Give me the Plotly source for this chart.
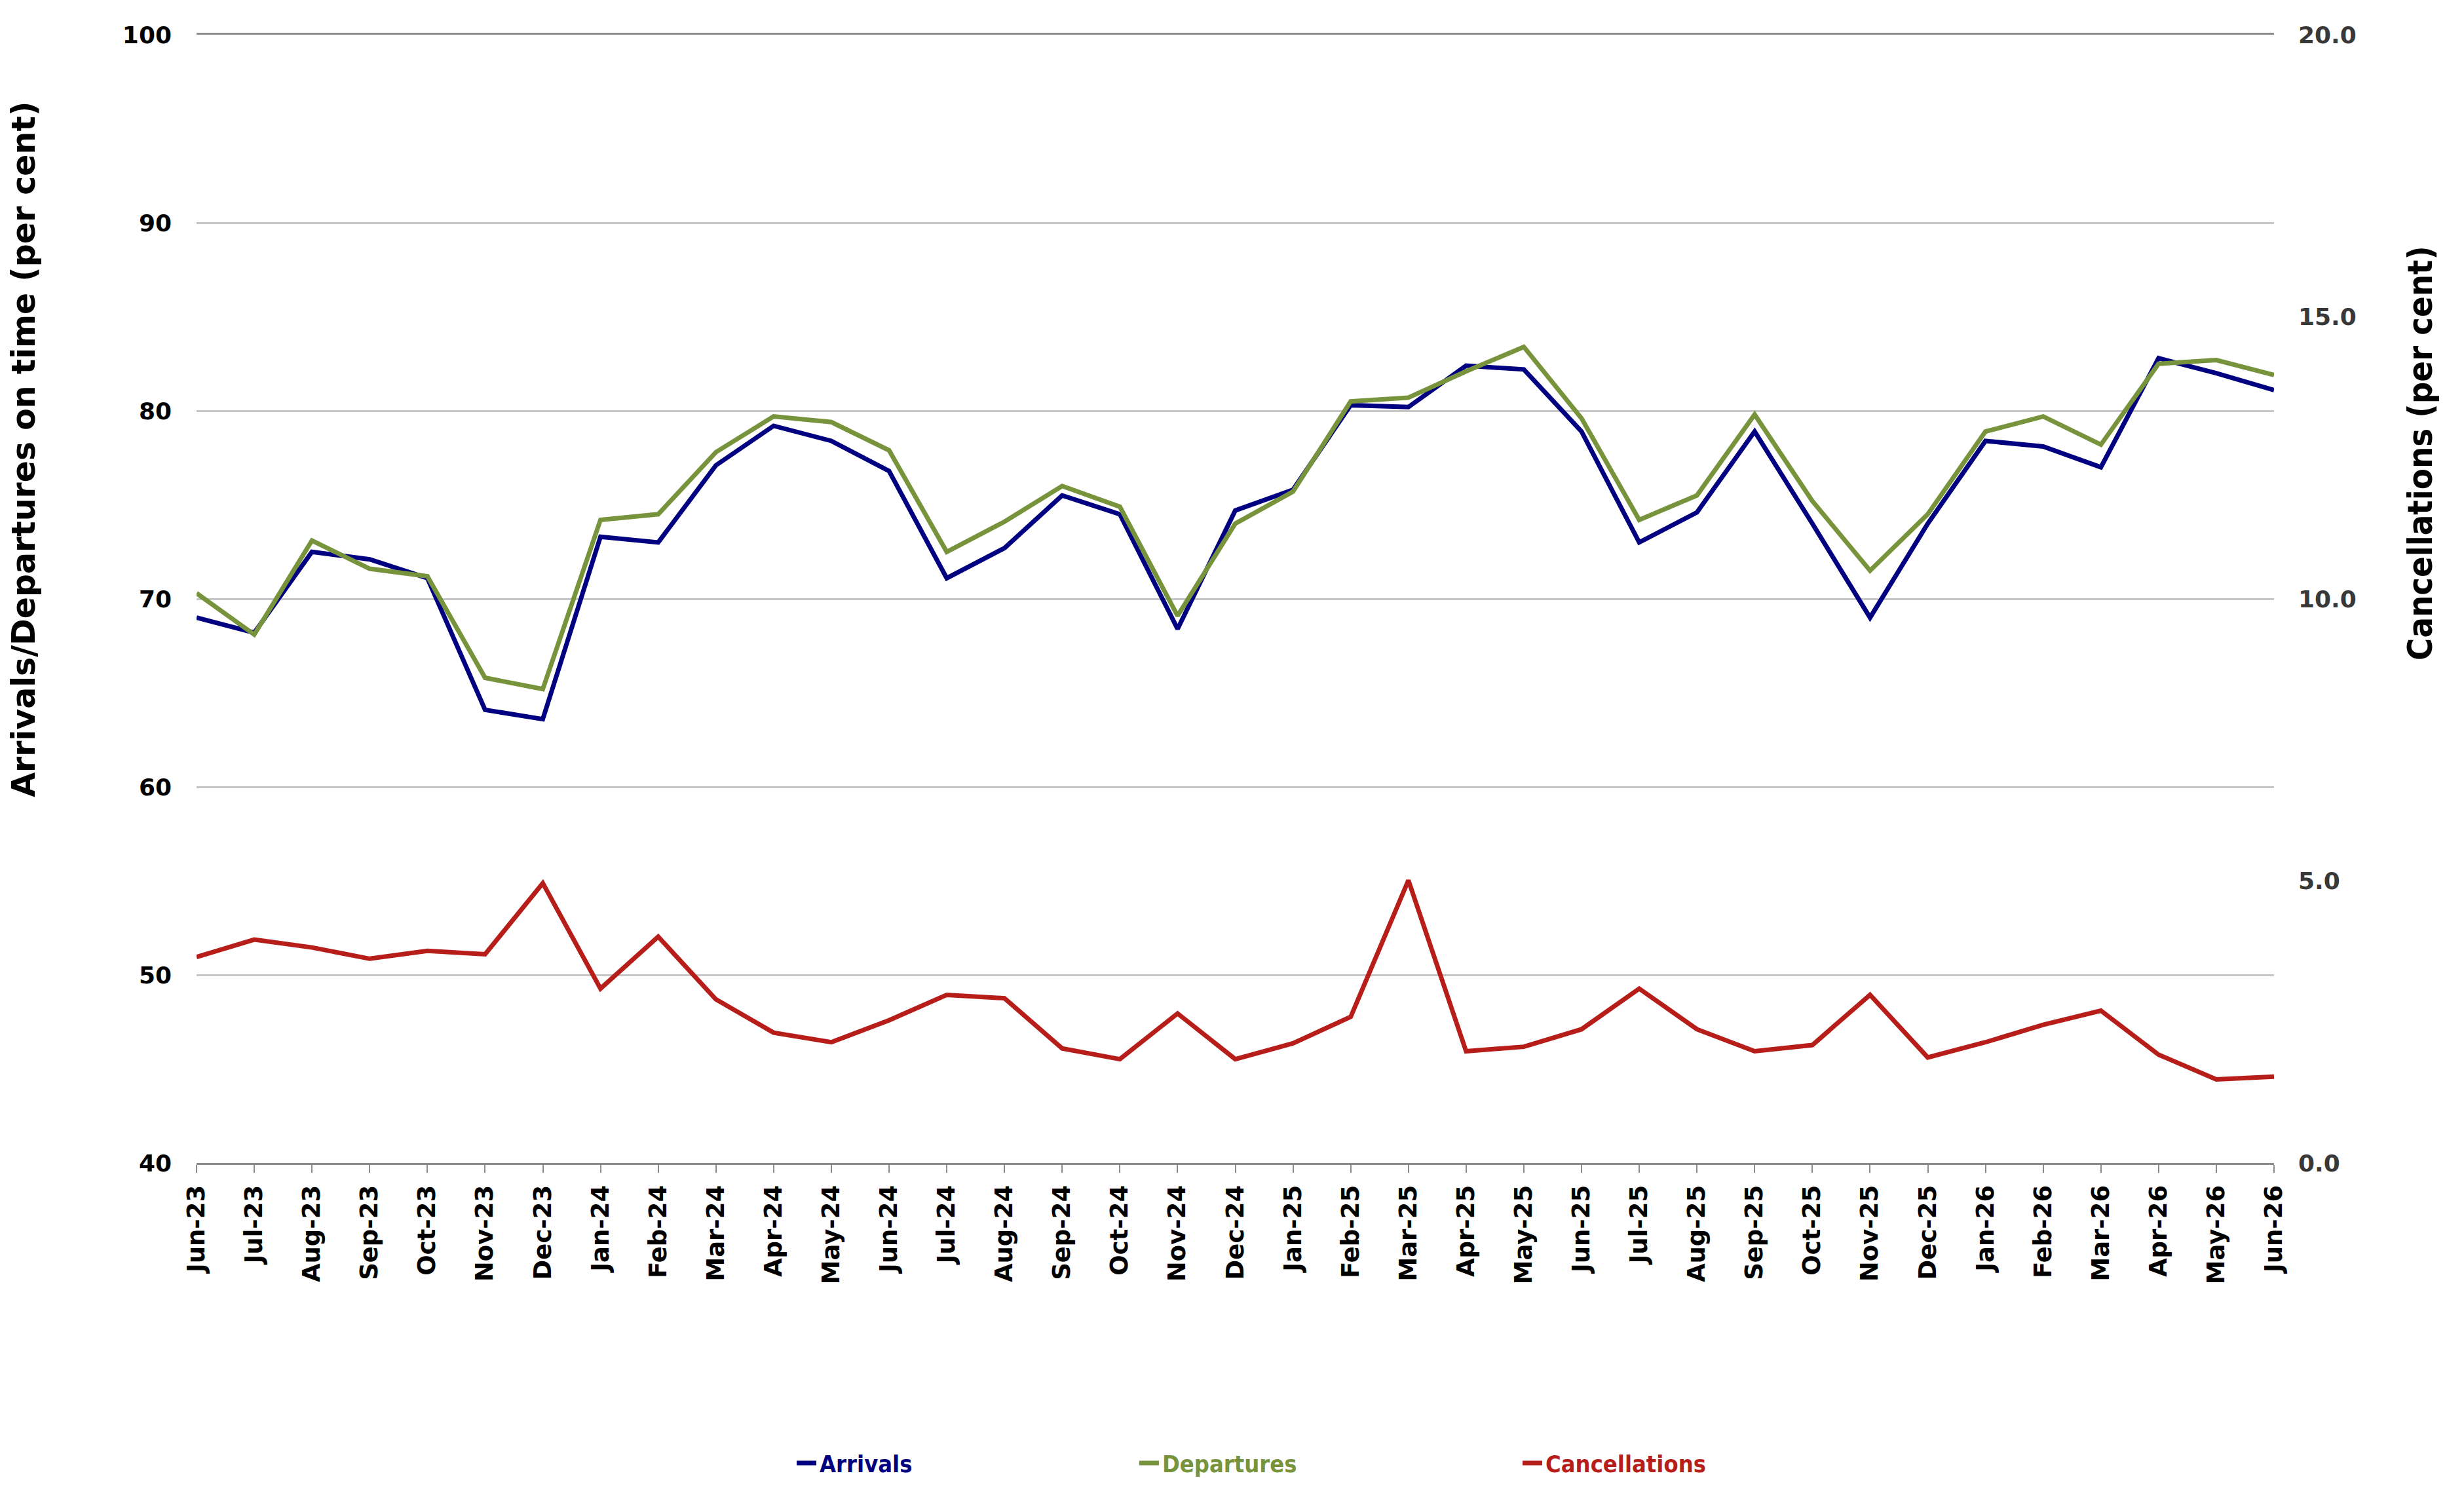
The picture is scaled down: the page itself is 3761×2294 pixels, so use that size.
import plotly.graph_objects as go

months = ["Jun-23","Jul-23","Aug-23","Sep-23","Oct-23","Nov-23","Dec-23","Jan-24","Feb-24","Mar-24",
          "Apr-24","May-24","Jun-24","Jul-24","Aug-24","Sep-24","Oct-24","Nov-24","Dec-24","Jan-25",
          "Feb-25","Mar-25","Apr-25","May-25","Jun-25","Jul-25","Aug-25","Sep-25","Oct-25","Nov-25",
          "Dec-25","Jan-26","Feb-26","Mar-26","Apr-26","May-26","Jun-26"]

arrivals = [69.0, 68.2, 72.5, 72.1, 71.1, 64.1, 63.6, 73.3, 73.0, 77.1,
            79.2, 78.4, 76.8, 71.1, 72.7, 75.5, 74.5, 68.4, 74.7, 75.8,
            80.3, 80.2, 82.4, 82.2, 78.9, 73.0, 74.6, 78.9, 74.0, 69.0,
            74.0, 78.4, 78.1, 77.0, 82.8, 82.0, 81.1]

departures = [70.3, 68.1, 73.1, 71.6, 71.2, 65.8, 65.2, 74.2, 74.5, 77.8,
              79.7, 79.4, 77.9, 72.5, 74.1, 76.0, 74.9, 69.1, 74.0, 75.7,
              80.5, 80.7, 82.1, 83.4, 79.6, 74.2, 75.5, 79.8, 75.2, 71.5,
              74.5, 78.9, 79.7, 78.2, 82.5, 82.7, 81.9]

cancellations = [3.65, 3.96, 3.82, 3.62, 3.76, 3.70, 4.96, 3.09, 4.01, 2.90,
                 2.31, 2.14, 2.53, 2.98, 2.92, 2.03, 1.84, 2.65, 1.84, 2.12,
                 2.59, 5.01, 1.98, 2.06, 2.37, 3.09, 2.37, 1.98, 2.09, 2.98,
                 1.87, 2.14, 2.45, 2.70, 1.92, 1.48, 1.53]

C_ARR = "#000080"
C_DEP = "#77933C"
C_CAN = "#B71E1A"

fig = go.Figure()
fig.add_trace(go.Scatter(x=months, y=arrivals, name="Arrivals", mode="lines", showlegend=True,
                         line=dict(color=C_ARR, width=7), legend="legend"))
fig.add_trace(go.Scatter(x=months, y=departures, name="Departures", mode="lines", showlegend=True,
                         line=dict(color=C_DEP, width=7), legend="legend2"))
fig.add_trace(go.Scatter(x=months, y=cancellations, name="Cancellations", mode="lines", showlegend=True,
                         line=dict(color=C_CAN, width=7), yaxis="y2", legend="legend3"))

tick_font = dict(family="DejaVu Sans", size=36, color="#000000", weight="bold")
xtick_font = dict(family="DejaVu Sans", size=37, color="#000000", weight="bold")
leg_common = dict(orientation="h", yanchor="middle", xanchor="left", y=-0.266,
                  bgcolor="rgba(0,0,0,0)", itemwidth=30)

fig.update_layout(
    width=3761, height=2294,
    margin=dict(l=300, r=290, t=53, b=519),
    paper_bgcolor="white", plot_bgcolor="white",
    font=dict(family="DejaVu Sans"),
    showlegend=True,
    xaxis=dict(
        type="category", range=[0, len(months) - 1],
        showgrid=False, showline=True, linecolor="#8C8C8C", linewidth=3, mirror=True,
        ticks="outside", ticklen=12, tickwidth=2, tickcolor="#8C8C8C",
        tickangle=-90, tickfont=xtick_font, ticklabelstandoff=4,
    ),
    yaxis=dict(
        range=[40, 100], dtick=10, showgrid=True, gridcolor="#C6C6C6", gridwidth=3,
        zeroline=False, showline=False, ticks="", tickfont=tick_font,
        ticklabelstandoff=37,
    ),
    yaxis2=dict(
        range=[0, 20], dtick=5, tickformat=".1f", overlaying="y", side="right",
        showgrid=False, zeroline=False, showline=False, ticks="",
        tickfont=dict(family="DejaVu Sans", size=36, color="#383838", weight="bold"),
        ticklabelstandoff=36,
    ),
    legend=dict(**leg_common, x=0.2873,
                font=dict(family="DejaVu Sans Condensed", size=36, color=C_ARR, weight="bold")),
    legend2=dict(**leg_common, x=0.4522,
                 font=dict(family="DejaVu Sans Condensed", size=36, color=C_DEP, weight="bold")),
    legend3=dict(**leg_common, x=0.6367,
                 font=dict(family="DejaVu Sans Condensed", size=36, color=C_CAN, weight="bold")),
    annotations=[
        dict(text="Arrivals/Departures on time (per cent)", textangle=-90, showarrow=False,
             xref="paper", yref="paper", x=-0.0833, y=0.6324, xanchor="center", yanchor="middle",
             font=dict(family="DejaVu Sans", size=49, color="#000000", weight="bold")),
        dict(text="Cancellations (per cent)", textangle=-90, showarrow=False,
             xref="paper", yref="paper", x=1.0703, y=0.6295, xanchor="center", yanchor="middle",
             font=dict(family="DejaVu Sans Condensed", size=52, color="#000000", weight="bold")),
    ],
)

fig.write_html("out.html")
